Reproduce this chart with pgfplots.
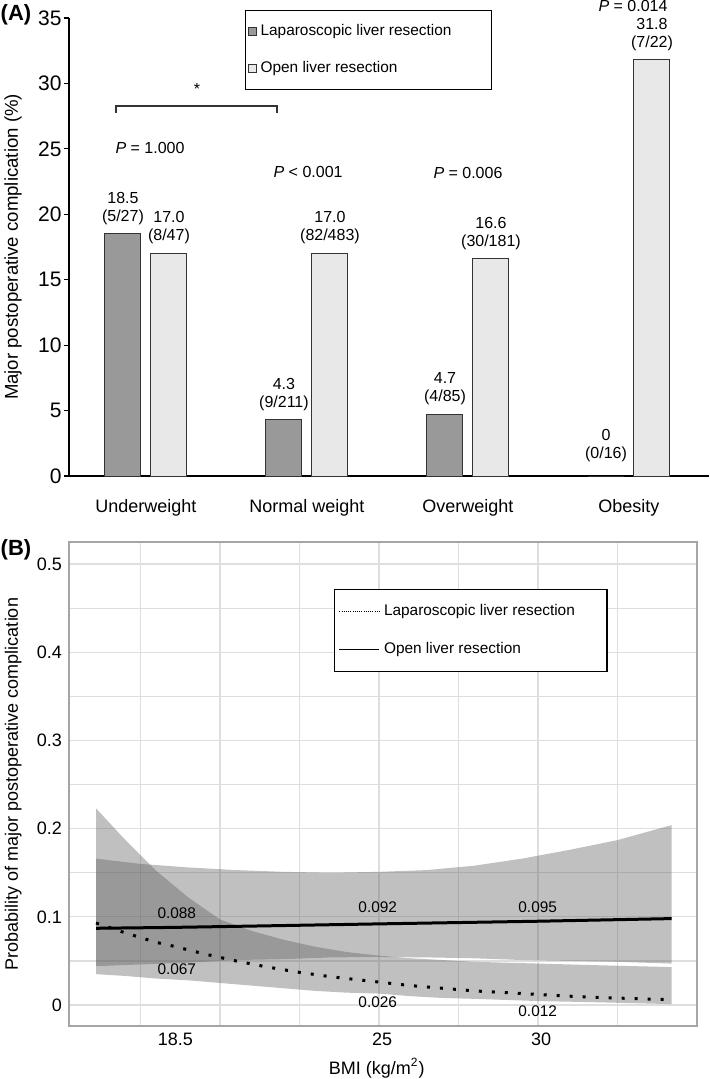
\documentclass[border=0pt]{standalone}
\usepackage{fontspec}
\setmainfont{Liberation Sans}
\usepackage{pgfplots}
\usepackage{pgfplotstable}
\pgfplotsset{compat=1.18}
\usepgfplotslibrary{fillbetween}

\definecolor{lapbar}{RGB}{153,153,153}
\definecolor{openbar}{RGB}{232,232,232}
\definecolor{band}{RGB}{90,90,90}
\definecolor{gridc}{RGB}{222,222,222}
\definecolor{framec}{RGB}{165,165,165}

% panel B: confidence bands and fitted lines
\pgfplotstableread{
x     lo     hi
16.1  0.044  0.166
17.5  0.046  0.160
19    0.048  0.156
20.5  0.051  0.153
22    0.052  0.151
23.5  0.054  0.150
25    0.0545 0.151
26.5  0.054  0.153
28    0.053  0.158
29.5  0.051  0.166
31    0.050  0.176
32.5  0.049  0.187
34.2  0.047  0.204
}\openband

\pgfplotstableread{
x     lo     hi
16.1  0.035  0.223
17    0.033  0.188
18    0.030  0.152
19    0.028  0.122
20    0.025  0.097
21    0.022  0.084
22    0.019  0.074
23    0.016  0.066
24    0.014  0.060
25    0.013  0.056
26    0.010  0.053
27    0.008  0.051
28    0.007  0.049
30    0.0045 0.047
32    0.003  0.045
34.2  0.001  0.043
}\lapband

\pgfplotstableread{
x     y
16.1  0.087
18.5  0.088
21    0.0895
25    0.092
30    0.095
34.2  0.098
}\openline

\pgfplotstableread{
x     y
16.1  0.093
17    0.082
18    0.071
18.5  0.067
19.5  0.058
20.5  0.050
21.5  0.043
22.5  0.037
23.5  0.032
24.5  0.028
25    0.026
26    0.022
27    0.019
28    0.016
29    0.014
30    0.012
31    0.010
32    0.0085
33    0.0073
34.2  0.006
}\lapline

\begin{document}
\begin{tikzpicture}

\node[font=\fontsize{11}{13}\selectfont\bfseries] at (8pt,-7.5pt) {(A)};
\node[font=\fontsize{11}{13}\selectfont\bfseries] at (8pt,-275pt) {(B)};

% ---------------- panel A ----------------
\begin{axis}[
  at={(34.5pt,-238pt)}, anchor=south west,
  width=320pt, height=229pt, scale only axis,
  xmin=-0.478, xmax=3.497, ymin=0, ymax=35,
  axis x line=bottom, axis y line=left,
  axis line style={-, black, line width=0.6pt},
  /pgf/number format/assume math mode=true,
  xtick={0,1,2,3},
  xticklabels={Underweight,Normal weight,Overweight,Obesity},
  xtick style={draw=none},
  ytick={0,5,...,35},
  tick align=outside, major tick length=2.5pt,
  ytick style={black, line width=0.6pt},
  yticklabel style={font=\fontsize{10.5}{12}\selectfont, inner xsep=1pt},
  xticklabel style={font=\fontsize{9}{11}\selectfont, yshift=-5.5pt},
  ylabel={Major postoperative complication (\%)},
  ylabel style={font=\fontsize{9.3}{11}\selectfont, at={(axis description cs:-0.0875,0.5)}, anchor=center},
  ybar, bar width=18pt,
  clip=false,
  legend style={at={(axis description cs:0.275,1.0175)}, anchor=north west,
    draw=black, line width=0.6pt, inner xsep=1pt, inner ysep=5pt,
    row sep=7.5pt, font=\fontsize{7.7}{9}\selectfont, cells={anchor=west}},
  legend image code/.code={\draw[#1, line width=0.5pt] (0pt,-2pt) rectangle (4pt,2pt);},
]
\addplot[fill=lapbar, draw=black!80, line width=0.5pt, bar shift=-11.5pt]
  coordinates {(0,18.5) (1,4.3) (2,4.7) (3,0)};
\addplot[fill=openbar, draw=black!80, line width=0.5pt, bar shift=11.5pt]
  coordinates {(0,17.0) (1,17.0) (2,16.6) (3,31.8)};
\addlegendentry{Laparoscopic liver resection\hspace*{17pt}}
\addlegendentry{Open liver resection}

\begin{scope}[every node/.style={font=\fontsize{8}{9}\selectfont, align=center, anchor=south, inner sep=0pt}]
\node[xshift=-11.5pt, yshift=4.5pt] at (axis cs:0,18.5) {18.5\\(5/27)};
\node[xshift=11.5pt, yshift=4.5pt] at (axis cs:0,17.0) {17.0\\(8/47)};
\node[xshift=-11.5pt, yshift=4.5pt] at (axis cs:1,4.3) {4.3\\(9/211)};
\node[xshift=11.5pt, yshift=4.5pt] at (axis cs:1,17.0) {17.0\\(82/483)};
\node[xshift=-11.5pt, yshift=4.5pt] at (axis cs:2,4.7) {4.7\\(4/85)};
\node[xshift=11.5pt, yshift=4.5pt] at (axis cs:2,16.6) {16.6\\(30/181)};
\node[xshift=-11.5pt, yshift=7pt] at (axis cs:3,0) {0\\(0/16)};
\node[xshift=11.5pt, yshift=4.5pt] at (axis cs:3,31.8) {31.8\\(7/22)};
\end{scope}

\begin{scope}[every node/.style={font=\fontsize{8}{9}\selectfont}]
\node at (axis cs:0.025,25.07) {\textit{P} = 1.000};
\node at (axis cs:1.007,23.23) {\textit{P} < 0.001};
\node at (axis cs:2.0,23.15) {\textit{P} = 0.006};
\node at (axis cs:3.025,35.9) {\textit{P} = 0.014};
\node at (axis cs:0.317,29.6) {*};
\end{scope}
\draw[black!80, line width=0.6pt] (axis cs:-0.186,27.73) -- (axis cs:-0.186,28.27)
  -- (axis cs:0.814,28.27) -- (axis cs:0.814,27.73);
\end{axis}

% ---------------- panel B ----------------
\begin{axis}[
  at={(34.5pt,-513pt)}, anchor=south west,
  width=314pt, height=242pt, scale only axis,
  xmin=15.25, xmax=35, ymin=-0.0238, ymax=0.525,
  axis line style={framec, line width=0.6pt},
  /pgf/number format/assume math mode=true,
  xtick={18.5,25,30},
  minor xtick={17.5,20,22.5,25,27.5,30,32.5},
  xminorgrids=true, xmajorgrids=false,
  ytick={0,0.1,0.2,0.3,0.4,0.5},
  minor ytick={0.05,0.15,0.25,0.35,0.45},
  ymajorgrids=true, yminorgrids=true,
  grid style={gridc, line width=0.6pt},
  minor grid style={gridc, line width=0.6pt},
  major tick length=0pt, minor tick length=0pt,
  xticklabel style={font=\fontsize{9}{11}\selectfont, xshift=1.5pt},
  yticklabel style={font=\fontsize{9}{11}\selectfont},
  xlabel={BMI (kg/m\textsuperscript{2})},
  xlabel style={font=\fontsize{9}{11}\selectfont, at={(axis description cs:0.49,0)}, anchor=center, yshift=-21pt},
  ylabel={Probability of major postoperative complication},
  ylabel style={font=\fontsize{9}{11}\selectfont, at={(axis description cs:-0.089,0.5)}, anchor=center},
  legend style={at={(axis description cs:0.422,0.903)}, anchor=north west,
    draw=black, line width=0.6pt, inner xsep=2pt, inner ysep=5.5pt,
    row sep=8pt, font=\fontsize{7.7}{9}\selectfont, cells={anchor=west}},
  legend image code/.code={\draw[#1] (0pt,0pt) -- (20pt,0pt);},
]
\addplot[draw=none, name path=ou, forget plot] table[x=x, y=hi] {\openband};
\addplot[draw=none, name path=ol, forget plot] table[x=x, y=lo] {\openband};
\addplot[fill=band, fill opacity=0.38, draw=none, forget plot] fill between[of=ou and ol];
\addplot[draw=none, name path=lu, forget plot] table[x=x, y=hi] {\lapband};
\addplot[draw=none, name path=ll, forget plot] table[x=x, y=lo] {\lapband};
\addplot[fill=band, fill opacity=0.38, draw=none, forget plot] fill between[of=lu and ll];

\addplot[black, line width=1.5pt, forget plot] table[x=x, y=y] {\openline};
\addplot[black, line width=1.5pt, dash pattern=on 1.5pt off 5pt, forget plot] table[x=x, y=y] {\lapline};

\addlegendimage{black, line width=0.5pt, dash pattern=on 0.5pt off 0.6pt}
\addlegendentry{Laparoscopic liver resection\hspace*{12pt}}
\addlegendimage{black, line width=0.7pt}
\addlegendentry{Open liver resection}

\begin{scope}[every node/.style={font=\fontsize{7.7}{9}\selectfont}]
\node at (axis cs:18.64,0.104) {0.088};
\node at (axis cs:18.64,0.041) {0.067};
\node at (axis cs:24.96,0.111) {0.092};
\node at (axis cs:24.96,0.0037) {0.026};
\node at (axis cs:29.99,0.111) {0.095};
\node at (axis cs:29.99,-0.0065) {0.012};
\end{scope}
\end{axis}

\pgfresetboundingbox
\path (0pt,0pt) rectangle (354.5pt,-539.5pt);
\end{tikzpicture}
\end{document}
